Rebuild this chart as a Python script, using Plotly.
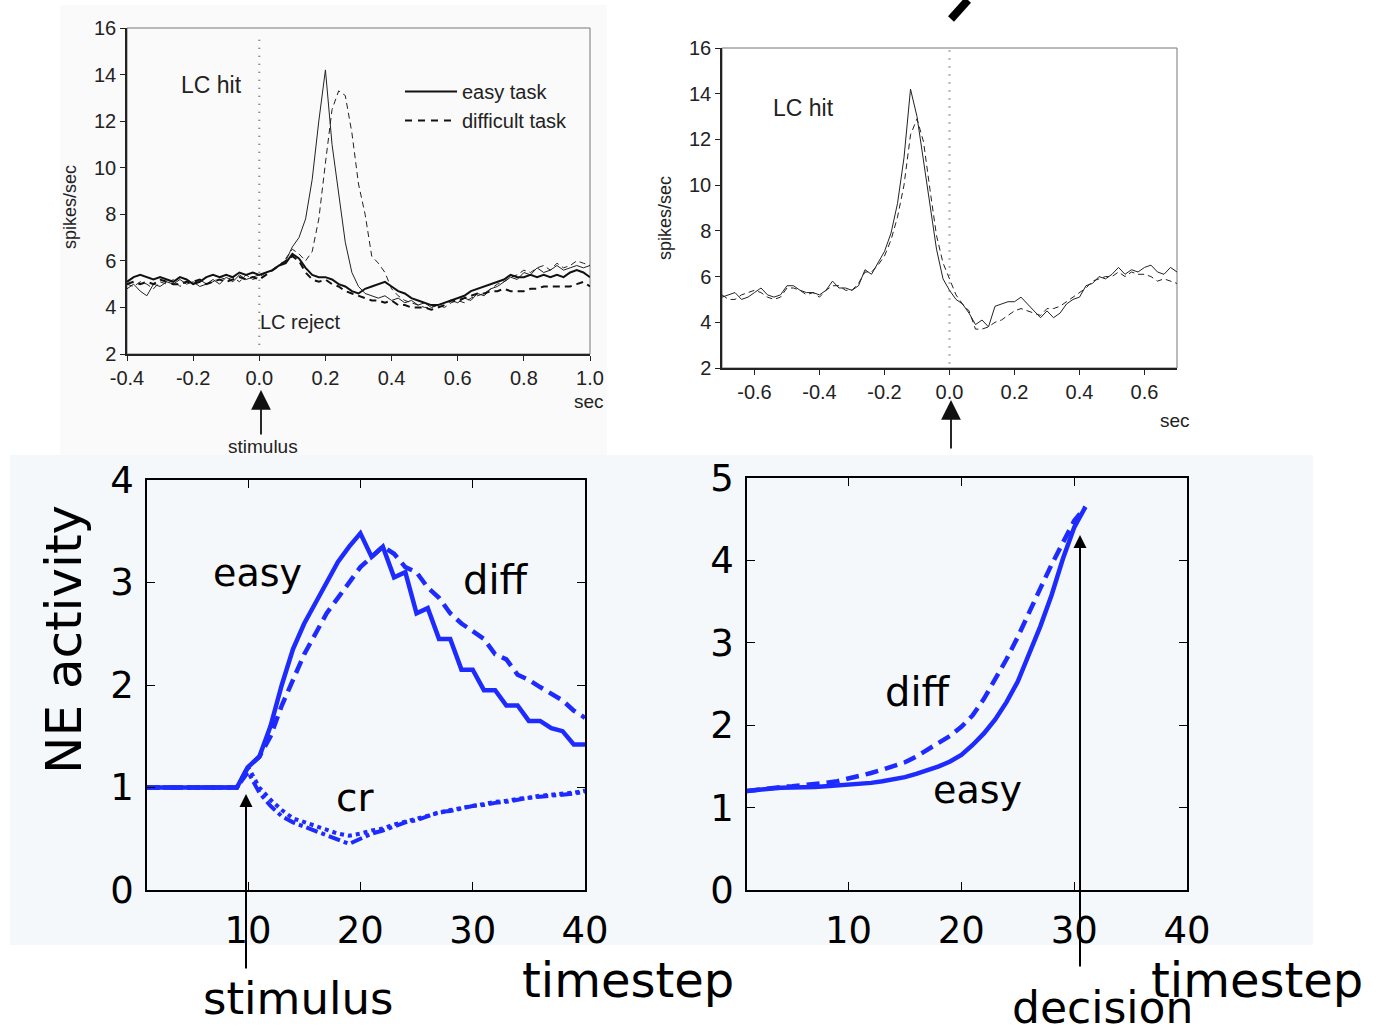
import numpy as np
import plotly.graph_objects as go

W, H = 1376, 1032
def px(x): return x / W
def py(y): return 1 - y / H

# ---------------- data ----------------
# Top-left: LC response aligned on stimulus (sec)
t_stim = np.round(np.arange(-0.40, 1.001, 0.02), 2)
hit_easy = [4.8, 5.0, 4.7, 4.5, 5.0, 4.9, 5.1, 5.0, 5.2, 5.0, 5.1, 4.9, 5.0, 5.2, 5.0, 5.3, 5.1, 5.4, 5.2, 5.3,
            5.4, 5.5, 5.6, 5.8, 6.0, 6.6, 7.0, 7.8, 9.5, 12.0, 14.2, 11.0, 8.8, 6.8, 5.5, 4.9, 4.6, 4.5, 4.4, 4.5,
            4.3, 4.4, 4.2, 4.3, 4.1, 4.2, 4.0, 4.1, 4.2, 4.3, 4.2, 4.4, 4.3, 4.6, 4.5, 4.8, 4.9, 5.1, 5.3, 5.2,
            5.5, 5.4, 5.7, 5.5, 5.6, 5.8, 5.6, 5.7, 5.8, 5.7, 5.8]
hit_diff = [5.0, 4.9, 5.1, 5.0, 4.8, 5.1, 5.0, 5.2, 4.9, 5.1, 5.0, 5.2, 5.0, 5.1, 5.3, 5.2, 5.3, 5.1, 5.4, 5.2,
            5.3, 5.5, 5.6, 5.8, 6.1, 6.5, 6.3, 6.0, 6.4, 7.8, 10.2, 12.5, 13.3, 13.1, 11.5, 9.3, 8.0, 6.2, 5.9, 5.5,
            4.8, 4.5, 4.3, 4.2, 4.1, 4.0, 4.0, 4.1, 4.0, 4.2, 4.3, 4.2, 4.4, 4.5, 4.6, 4.8, 5.0, 5.1, 5.3, 5.4,
            5.6, 5.5, 5.7, 5.8, 5.6, 5.9, 5.7, 5.8, 6.0, 5.9, 5.8]
rej_easy = [5.1, 5.3, 5.4, 5.3, 5.2, 5.3, 5.2, 5.1, 5.3, 5.2, 5.0, 5.1, 5.3, 5.4, 5.3, 5.4, 5.3, 5.5, 5.4, 5.5,
            5.4, 5.5, 5.6, 5.8, 5.9, 6.3, 6.1, 5.7, 5.4, 5.3, 5.3, 5.2, 5.0, 4.9, 4.7, 4.6, 4.8, 4.9, 5.0, 5.1,
            4.9, 4.7, 4.6, 4.4, 4.3, 4.2, 4.1, 4.1, 4.2, 4.3, 4.4, 4.5, 4.7, 4.8, 4.9, 5.0, 5.1, 5.2, 5.4, 5.3,
            5.3, 5.4, 5.3, 5.4, 5.3, 5.4, 5.3, 5.5, 5.6, 5.5, 5.3]
rej_diff = [5.0, 5.1, 5.0, 5.1, 5.0, 5.2, 5.1, 5.0, 5.0, 5.1, 5.1, 5.2, 5.0, 5.1, 5.2, 5.1, 5.2, 5.3, 5.2, 5.3,
            5.2, 5.4, 5.6, 5.8, 6.0, 6.2, 6.0, 5.5, 5.2, 5.1, 5.2, 5.0, 4.9, 4.7, 4.6, 4.5, 4.4, 4.3, 4.3, 4.2,
            4.3, 4.1, 4.1, 4.0, 4.0, 4.0, 3.9, 4.0, 4.1, 4.3, 4.3, 4.4, 4.5, 4.6, 4.6, 4.7, 4.7, 4.8, 4.7, 4.7,
            4.7, 4.8, 4.8, 4.9, 4.9, 4.9, 4.9, 4.9, 5.0, 5.1, 4.9]

# Top-right: LC response aligned on decision (sec)
t_dec = np.round(np.arange(-0.70, 0.701, 0.02), 2)
dec_easy = [5.1, 5.2, 5.3, 5.0, 5.1, 5.3, 5.5, 5.2, 5.1, 5.2, 5.6, 5.6, 5.4, 5.3, 5.3, 5.2, 5.4, 5.8, 5.5, 5.5,
            5.4, 5.6, 6.3, 6.1, 6.6, 7.1, 7.9, 9.2, 11.2, 14.2, 13.0, 11.0, 9.0, 7.2, 5.9, 5.4, 5.0, 4.8, 4.4, 3.9,
            4.1, 3.8, 4.7, 4.8, 4.9, 4.9, 5.1, 4.8, 4.5, 4.2, 4.5, 4.2, 4.4, 4.8, 5.0, 5.1, 5.6, 5.7, 6.0, 5.9,
            6.1, 6.4, 6.1, 6.3, 6.2, 6.4, 6.5, 6.2, 6.1, 6.4, 6.2]
dec_diff = [5.2, 5.0, 5.0, 5.2, 5.3, 5.4, 5.3, 5.1, 5.0, 5.1, 5.5, 5.5, 5.4, 5.2, 5.3, 5.1, 5.4, 5.6, 5.6, 5.4,
            5.4, 5.7, 6.2, 6.2, 6.5, 6.9, 7.6, 8.6, 10.0, 12.2, 12.9, 11.9, 9.8, 7.8, 6.6, 5.9, 5.2, 4.8, 4.5, 3.7,
            3.7, 3.8, 4.0, 4.1, 4.3, 4.5, 4.6, 4.5, 4.4, 4.3, 4.6, 4.6, 4.7, 4.9, 5.1, 5.3, 5.5, 5.8, 5.9, 6.0,
            6.0, 6.2, 6.0, 6.2, 6.1, 6.1, 6.0, 5.8, 5.9, 5.8, 5.7]

# Bottom-left: model NE activity aligned on stimulus
ts = list(range(1, 41))
ne_easy = [1.0] * 9 + [1.2, 1.3, 1.6, 2.0, 2.35, 2.6, 2.8, 3.0, 3.2, 3.35, 3.48, 3.25, 3.35, 3.05, 3.1, 2.7,
                       2.75, 2.45, 2.45, 2.15, 2.15, 1.95, 1.95, 1.8, 1.8, 1.65, 1.65, 1.58, 1.55, 1.42, 1.42]
ne_diff = [1.0] * 9 + [1.2, 1.3, 1.5, 1.8, 2.05, 2.3, 2.5, 2.7, 2.85, 3.0, 3.15, 3.25, 3.35, 3.28, 3.15, 3.1,
                       2.95, 2.85, 2.7, 2.6, 2.52, 2.45, 2.3, 2.25, 2.1, 2.05, 1.98, 1.92, 1.85, 1.75, 1.68]
ne_cr1 = [1.0] * 9 + [1.15, 0.95, 0.82, 0.72, 0.66, 0.62, 0.58, 0.54, 0.5, 0.45, 0.5, 0.55, 0.58, 0.62, 0.66,
                      0.68, 0.72, 0.76, 0.77, 0.8, 0.82, 0.83, 0.85, 0.86, 0.88, 0.9, 0.91, 0.92, 0.93, 0.94, 0.96]
ne_cr2 = [1.0] * 9 + [1.2, 1.0, 0.88, 0.78, 0.7, 0.66, 0.62, 0.58, 0.55, 0.53, 0.55, 0.58, 0.6, 0.64, 0.67,
                      0.7, 0.73, 0.75, 0.78, 0.8, 0.82, 0.84, 0.86, 0.87, 0.89, 0.9, 0.92, 0.93, 0.94, 0.95, 0.97]

# Bottom-right: model NE activity aligned on decision
td = list(range(1, 32))
nd_easy = [1.20, 1.22, 1.23, 1.24, 1.24, 1.25, 1.25, 1.26, 1.27, 1.27, 1.28, 1.30, 1.32, 1.34, 1.37, 1.41,
           1.45, 1.50, 1.56, 1.64, 1.76, 1.90, 2.07, 2.28, 2.53, 2.85, 3.20, 3.58, 4.02, 4.40, 4.65]
nd_diff = [1.20, 1.22, 1.24, 1.25, 1.26, 1.27, 1.28, 1.30, 1.32, 1.35, 1.38, 1.42, 1.46, 1.50, 1.55, 1.62,
           1.70, 1.78, 1.87, 1.98, 2.12, 2.32, 2.55, 2.80, 3.07, 3.35, 3.66, 3.95, 4.22, 4.48, 4.65]

tl_xticks = [-0.4, -0.2, 0.0, 0.2, 0.4, 0.6, 0.8, 1.0]
tl_xlabels = ["-0.4", "-0.2", "0.0", "0.2", "0.4", "0.6", "0.8", "1.0"]
tr_xticks = [-0.6, -0.4, -0.2, 0.0, 0.2, 0.4, 0.6]
tr_xlabels = ["-0.6", "-0.4", "-0.2", "0.0", "0.2", "0.4", "0.6"]
top_yticks = [2, 4, 6, 8, 10, 12, 14, 16]
bot_xticks = [10, 20, 30, 40]

BLUE = "#1e2bff"
TOPF = "Liberation Sans, Arial, sans-serif"
BOTF = "DejaVu Sans, sans-serif"

fig = go.Figure()

# top-left traces
fig.add_trace(go.Scatter(x=t_stim, y=hit_easy, mode="lines", line=dict(color="#222", width=1), xaxis="x", yaxis="y", showlegend=False))
fig.add_trace(go.Scatter(x=t_stim, y=hit_diff, mode="lines", line=dict(color="#222", width=1, dash="6px,4px"), xaxis="x", yaxis="y", showlegend=False))
fig.add_trace(go.Scatter(x=t_stim, y=rej_easy, mode="lines", line=dict(color="#111", width=2), xaxis="x", yaxis="y", showlegend=False))
fig.add_trace(go.Scatter(x=t_stim, y=rej_diff, mode="lines", line=dict(color="#111", width=2, dash="7px,5px"), xaxis="x", yaxis="y", showlegend=False))
# legend entries
fig.add_trace(go.Scatter(x=[None], y=[None], mode="lines", name="easy task", line=dict(color="#111", width=2), xaxis="x", yaxis="y"))
fig.add_trace(go.Scatter(x=[None], y=[None], mode="lines", name="difficult task", line=dict(color="#111", width=2, dash="7px,6px"), xaxis="x", yaxis="y"))

# top-right traces
fig.add_trace(go.Scatter(x=t_dec, y=dec_easy, mode="lines", line=dict(color="#222", width=1), xaxis="x2", yaxis="y2", showlegend=False))
fig.add_trace(go.Scatter(x=t_dec, y=dec_diff, mode="lines", line=dict(color="#222", width=1, dash="6px,4px"), xaxis="x2", yaxis="y2", showlegend=False))

# bottom-left traces
fig.add_trace(go.Scatter(x=ts, y=ne_cr1, mode="lines", line=dict(color=BLUE, width=4, dash="dashdot"), xaxis="x3", yaxis="y3", showlegend=False))
fig.add_trace(go.Scatter(x=ts, y=ne_cr2, mode="lines", line=dict(color=BLUE, width=4, dash="dot"), xaxis="x3", yaxis="y3", showlegend=False))
fig.add_trace(go.Scatter(x=ts, y=ne_diff, mode="lines", line=dict(color=BLUE, width=4.5, dash="13px,7px"), xaxis="x3", yaxis="y3", showlegend=False))
fig.add_trace(go.Scatter(x=ts, y=ne_easy, mode="lines", line=dict(color=BLUE, width=4.5), xaxis="x3", yaxis="y3", showlegend=False))

# bottom-right traces
fig.add_trace(go.Scatter(x=td, y=nd_diff, mode="lines", line=dict(color=BLUE, width=4.5, dash="13px,7px"), xaxis="x4", yaxis="y4", showlegend=False))
fig.add_trace(go.Scatter(x=td, y=nd_easy, mode="lines", line=dict(color=BLUE, width=4.5), xaxis="x4", yaxis="y4", showlegend=False))

top_ax = dict(showgrid=False, zeroline=False, showline=True, linecolor="#222", linewidth=1.5, automargin=False,
              ticks="outside", ticklen=5, tickcolor="#222", tickfont=dict(family=TOPF, size=20, color="#222"))
bot_ax = dict(showgrid=False, zeroline=False, showline=True, linecolor="#000", linewidth=1.5, mirror="ticks",
              automargin=False,
              ticks="inside", ticklen=8, tickcolor="#000", tickfont=dict(family=BOTF, size=37, color="#000"))

fig.update_layout(
    width=W, height=H, autosize=False,
    margin=dict(l=0, r=0, t=0, b=0, pad=0, autoexpand=False),
    paper_bgcolor="white", plot_bgcolor="rgba(0,0,0,0)",
    xaxis=dict(**top_ax, domain=[px(127), px(590)], range=[-0.4, 1.0], anchor="y",
               tickvals=tl_xticks, ticktext=tl_xlabels),
    yaxis=dict(**top_ax, domain=[py(354), py(28)], range=[2, 16], anchor="x", tickvals=top_yticks),
    xaxis2=dict(**top_ax, domain=[px(722), px(1177)], range=[-0.7, 0.7], anchor="y2",
                tickvals=tr_xticks, ticktext=tr_xlabels),
    yaxis2=dict(**top_ax, domain=[py(368), py(48)], range=[2, 16], anchor="x2", tickvals=top_yticks),
    xaxis3=dict(**bot_ax, domain=[px(147), px(585)], range=[1, 40], anchor="y3", tickvals=bot_xticks,
                ticklabelstandoff=7),
    yaxis3=dict(**bot_ax, domain=[py(890), py(480)], range=[0, 4], anchor="x3", tickvals=[0, 1, 2, 3, 4],
                ticklabelstandoff=4),
    xaxis4=dict(**bot_ax, domain=[px(747), px(1187)], range=[1, 40], anchor="y4", tickvals=bot_xticks,
                ticklabelstandoff=7),
    yaxis4=dict(**bot_ax, domain=[py(890), py(478)], range=[0, 5], anchor="x4", tickvals=[0, 1, 2, 3, 4, 5],
                ticklabelstandoff=4),
    legend=dict(x=px(400), y=py(72), xanchor="left", yanchor="top", bgcolor="rgba(0,0,0,0)",
                font=dict(family=TOPF, size=20, color="#222"), itemwidth=52, tracegroupgap=0),
)

shapes = [
    # panel backgrounds
    dict(type="rect", xref="paper", yref="paper", x0=px(60), x1=px(607), y0=py(455), y1=py(5),
         fillcolor="#fafafa", line=dict(width=0), layer="below"),
    dict(type="rect", xref="paper", yref="paper", x0=px(10), x1=px(1313), y0=py(945), y1=py(455),
         fillcolor="#f4f8fb", line=dict(width=0), layer="below"),
    # frames of the top plots
    dict(type="rect", xref="x domain", yref="y domain", x0=0, x1=1, y0=0, y1=1,
         line=dict(color="#777", width=1), layer="below"),
    dict(type="rect", xref="x2 domain", yref="y2 domain", x0=0, x1=1, y0=0, y1=1,
         line=dict(color="#777", width=1), layer="below"),
    # dotted alignment lines
    dict(type="line", xref="x", yref="y", x0=0, x1=0, y0=2.4, y1=15.8,
         line=dict(color="#666", width=2, dash="1px,7px"), layer="below"),
    dict(type="line", xref="x2", yref="y2", x0=0, x1=0, y0=2.2, y1=16,
         line=dict(color="#666", width=2, dash="1px,7px"), layer="below"),
    # stray slash at the top
    dict(type="line", xref="paper", yref="paper", x0=px(968), x1=px(951), y0=py(0), y1=py(19),
         line=dict(color="#000", width=8)),
]
fig.update_layout(shapes=shapes)

ann = []
def txt(x, y, s, size, family, color="#000", angle=0, xanchor="center"):
    ann.append(dict(x=px(x), y=py(y), xref="paper", yref="paper", text=s, showarrow=False,
                    font=dict(family=family, size=size, color=color), textangle=angle,
                    xanchor=xanchor, yanchor="middle"))

# top-left texts
txt(211, 85, "LC hit", 23, TOPF, "#222")
txt(300, 322, "LC reject", 20, TOPF, "#222")
txt(70, 207, "spikes/sec", 18, TOPF, "#222", angle=-90)
txt(589, 401, "sec", 19, TOPF, "#222")
txt(263, 446, "stimulus", 19, TOPF, "#222")
# top-right texts
txt(803, 108, "LC hit", 23, TOPF, "#222")
txt(665, 218, "spikes/sec", 18, TOPF, "#222", angle=-90)
txt(1175, 420, "sec", 19, TOPF, "#222")
# bottom texts
txt(257, 573, "easy", 38, BOTF)
txt(496, 580, "diff", 40, BOTF)
txt(355, 797, "cr", 39, BOTF)
txt(64, 640, "NE activity", 50, BOTF, angle=-90)
txt(918, 692, "diff", 40, BOTF)
txt(977, 790, "easy", 38, BOTF)
txt(628, 980, "timestep", 48, BOTF)
txt(1257, 980, "timestep", 48, BOTF)
txt(298, 998, "stimulus", 45, BOTF)
txt(1102, 1007, "decision", 44, BOTF)

# arrows
ann.append(dict(x=px(261), y=py(390), xref="paper", yref="paper", ax=0, ay=46, text="", showarrow=True,
                arrowhead=2, arrowsize=2.2, arrowwidth=1.8, arrowcolor="#111"))
ann.append(dict(x=px(951), y=py(400), xref="paper", yref="paper", ax=0, ay=50, text="", showarrow=True,
                arrowhead=2, arrowsize=2.2, arrowwidth=1.8, arrowcolor="#111"))
ann.append(dict(x=px(246), y=py(794), xref="paper", yref="paper", ax=0, ay=176, text="", showarrow=True,
                arrowhead=2, arrowsize=1.3, arrowwidth=2, arrowcolor="#000"))
ann.append(dict(x=px(1080), y=py(535), xref="paper", yref="paper", ax=0, ay=433, text="", showarrow=True,
                arrowhead=2, arrowsize=1.3, arrowwidth=2, arrowcolor="#000"))
fig.update_layout(annotations=ann)

fig.write_html("out.html")
